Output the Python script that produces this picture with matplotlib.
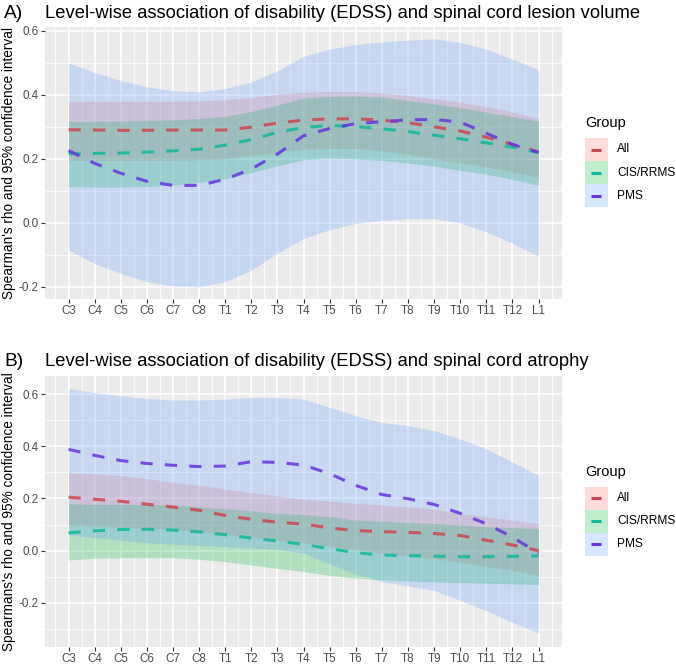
import matplotlib
matplotlib.use("Agg")
import matplotlib.pyplot as plt
from matplotlib.patches import Rectangle
from matplotlib.lines import Line2D
from matplotlib.ticker import FixedLocator, MultipleLocator
import numpy as np

plt.rcParams['font.family'] = ['Liberation Sans', 'DejaVu Sans']

levels = ["C3", "C4", "C5", "C6", "C7", "C8", "T1", "T2", "T3", "T4",
          "T5", "T6", "T7", "T8", "T9", "T10", "T11", "T12", "L1"]
groups = ["All", "CIS/RRMS", "PMS"]

# ---- Panel A: lesion volume ----
a_all = [0.291, 0.290, 0.289, 0.289, 0.290, 0.290, 0.290, 0.299, 0.312, 0.321,
         0.325, 0.325, 0.321, 0.313, 0.300, 0.287, 0.268, 0.245, 0.222]
a_all_lo = [0.195, 0.195, 0.195, 0.195, 0.195, 0.197, 0.200, 0.210, 0.222, 0.230,
            0.232, 0.232, 0.226, 0.214, 0.200, 0.187, 0.175, 0.160, 0.143]
a_all_hi = [0.379, 0.380, 0.380, 0.380, 0.380, 0.381, 0.385, 0.392, 0.402, 0.408,
            0.410, 0.410, 0.406, 0.398, 0.388, 0.377, 0.364, 0.346, 0.325]
a_cis = [0.216, 0.217, 0.218, 0.221, 0.225, 0.230, 0.243, 0.260, 0.283, 0.298,
         0.304, 0.301, 0.294, 0.285, 0.274, 0.263, 0.250, 0.236, 0.220]
a_cis_lo = [0.113, 0.112, 0.112, 0.113, 0.118, 0.126, 0.138, 0.157, 0.178, 0.197,
            0.202, 0.200, 0.195, 0.187, 0.177, 0.164, 0.152, 0.136, 0.118]
a_cis_hi = [0.317, 0.317, 0.318, 0.320, 0.322, 0.326, 0.333, 0.348, 0.368, 0.390,
            0.395, 0.396, 0.393, 0.382, 0.372, 0.360, 0.346, 0.332, 0.318]
a_pms = [0.226, 0.186, 0.155, 0.130, 0.117, 0.117, 0.136, 0.168, 0.215, 0.272,
         0.295, 0.310, 0.316, 0.322, 0.323, 0.315, 0.280, 0.245, 0.220]
a_pms_lo = [-0.085, -0.127, -0.158, -0.184, -0.197, -0.200, -0.184, -0.148, -0.095, -0.049,
            -0.021, -0.002, 0.008, 0.013, 0.013, 0.000, -0.028, -0.064, -0.104]
a_pms_hi = [0.500, 0.470, 0.445, 0.425, 0.413, 0.410, 0.420, 0.440, 0.475, 0.520,
            0.543, 0.557, 0.566, 0.571, 0.575, 0.564, 0.543, 0.512, 0.478]

# ---- Panel B: atrophy ----
b_all = [0.205, 0.197, 0.189, 0.178, 0.167, 0.155, 0.135, 0.120, 0.109, 0.102,
         0.087, 0.077, 0.073, 0.070, 0.066, 0.058, 0.040, 0.022, 0.000]
b_all_lo = [0.098, 0.094, 0.090, 0.085, 0.080, 0.072, 0.062, 0.050, 0.040, 0.030,
            0.018, 0.003, -0.010, -0.020, -0.030, -0.045, -0.060, -0.075, -0.093]
b_all_hi = [0.298, 0.295, 0.288, 0.276, 0.262, 0.250, 0.237, 0.222, 0.210, 0.197,
            0.190, 0.181, 0.175, 0.168, 0.159, 0.143, 0.130, 0.117, 0.104]
b_cis = [0.068, 0.076, 0.081, 0.082, 0.079, 0.072, 0.061, 0.048, 0.037, 0.024,
         0.008, -0.008, -0.017, -0.019, -0.021, -0.023, -0.023, -0.022, -0.020]
b_cis_lo = [-0.036, -0.029, -0.027, -0.027, -0.027, -0.033, -0.042, -0.055, -0.068, -0.080,
            -0.095, -0.105, -0.112, -0.117, -0.120, -0.122, -0.125, -0.127, -0.130]
b_cis_hi = [0.180, 0.177, 0.177, 0.177, 0.175, 0.168, 0.160, 0.152, 0.143, 0.139,
            0.130, 0.117, 0.113, 0.108, 0.104, 0.098, 0.092, 0.088, 0.085]
b_pms = [0.388, 0.365, 0.345, 0.334, 0.327, 0.322, 0.324, 0.341, 0.338, 0.328,
         0.295, 0.250, 0.215, 0.199, 0.177, 0.143, 0.103, 0.052, -0.010]
b_pms_lo = [0.060, 0.050, 0.040, 0.030, 0.025, 0.020, 0.015, 0.010, 0.005, -0.010,
            -0.050, -0.090, -0.118, -0.135, -0.152, -0.190, -0.230, -0.275, -0.315]
b_pms_hi = [0.621, 0.606, 0.593, 0.583, 0.577, 0.577, 0.580, 0.587, 0.587, 0.580,
            0.549, 0.517, 0.491, 0.479, 0.460, 0.428, 0.390, 0.339, 0.288]

y_ticks = [-0.2, 0.0, 0.2, 0.4, 0.6]
y_ticklabels = ["-0.2", "0.0", "0.2", "0.4", "0.6"]

fill_colors = ["#F8766D", "#00BA38", "#619CFF"]
line_colors = ["#CC4650", "#12B89C", "#6535DE"]

W, H = 676, 666
fig = plt.figure(figsize=(W / 100, H / 100), dpi=100)


def px_axes(l, t, r, b):
    return fig.add_axes([l / W, 1 - b / H, (r - l) / W, (b - t) / H])


def draw_panel(ax, series, ylim, tag, title, ylabel, top, bottom):
    x = np.arange(1, len(levels) + 1)
    ax.set_facecolor("#EBEBEB")
    for (mid, lo, hi), fc in zip(series, fill_colors):
        ax.fill_between(x, lo, hi, color=fc, alpha=0.25, linewidth=0)
    for (mid, lo, hi), lc in zip(series, line_colors):
        ax.plot(x, mid, color=lc, lw=2.2, alpha=0.85, dashes=(4, 4),
                solid_capstyle="butt", dash_capstyle="butt")
    ax.set_xlim(0.1, len(levels) + 0.9)
    ax.set_ylim(*ylim)
    ax.set_xticks(x)
    ax.set_xticklabels(levels)
    ax.xaxis.set_minor_locator(FixedLocator(np.arange(0.5, len(levels) + 1, 1.0)))
    ax.set_yticks(y_ticks)
    ax.set_yticklabels(y_ticklabels)
    ax.yaxis.set_minor_locator(MultipleLocator(0.1))
    ax.grid(which="major", color="white", lw=1.1)
    ax.grid(which="minor", color="white", lw=0.55)
    ax.set_axisbelow(True)
    for s in ax.spines.values():
        s.set_visible(False)
    ax.tick_params(which="major", length=3, width=0.8, color="#333333",
                   labelsize=8.4, labelcolor="#4D4D4D", pad=1.5)
    ax.tick_params(which="minor", length=0)
    # titles
    ty = top - 14
    fig.text(4 / W, 1 - ty / H, tag, fontsize=13.8, va="center", ha="left")
    fig.text(45 / W, 1 - ty / H, title, fontsize=13.2, va="center", ha="left")
    fig.text(9 / W, 1 - (top + bottom) / 2 / H, ylabel, rotation=90,
             fontsize=9.85, va="center", ha="center")
    # legend
    cy = (top + bottom) / 2
    fig.text(585 / W, 1 - (cy - 39.5) / H, "Group", fontsize=10.5,
             va="center", ha="left")
    for i, (g, fc, lc) in enumerate(zip(groups, fill_colors, line_colors)):
        y0 = cy - 25 + 23 * i
        fig.add_artist(Rectangle((585 / W, 1 - (y0 + 23) / H), 23 / W, 23 / H,
                                 transform=fig.transFigure, facecolor=fc,
                                 alpha=0.25, edgecolor="none"))
        fig.add_artist(Line2D([591 / W, 601 / W], [1 - (y0 + 11.5) / H] * 2,
                              transform=fig.transFigure, color=lc, lw=2.2,
                              solid_capstyle="butt"))
        fig.text(617 / W, 1 - (y0 + 11.5) / H, g, fontsize=8.6,
                 va="center", ha="left")


axA = px_axes(45, 27, 562, 299)
draw_panel(axA,
           [(a_all, a_all_lo, a_all_hi), (a_cis, a_cis_lo, a_cis_hi),
            (a_pms, a_pms_lo, a_pms_hi)],
           (-0.238, 0.612), "A)",
           "Level-wise association of disability (EDSS) and spinal cord lesion volume",
           "Spearman's rho and 95% confidence interval", 27, 299)

axB = px_axes(45, 376, 562, 647)
draw_panel(axB,
           [(b_all, b_all_lo, b_all_hi), (b_cis, b_cis_lo, b_cis_hi),
            (b_pms, b_pms_lo, b_pms_hi)],
           (-0.369, 0.669), "B)",
           "Level-wise association of disability (EDSS) and spinal cord atrophy",
           "Spearmans's rho and 95% confidence interval", 376, 647)

fig.savefig("out.png", dpi=100, facecolor="white")
